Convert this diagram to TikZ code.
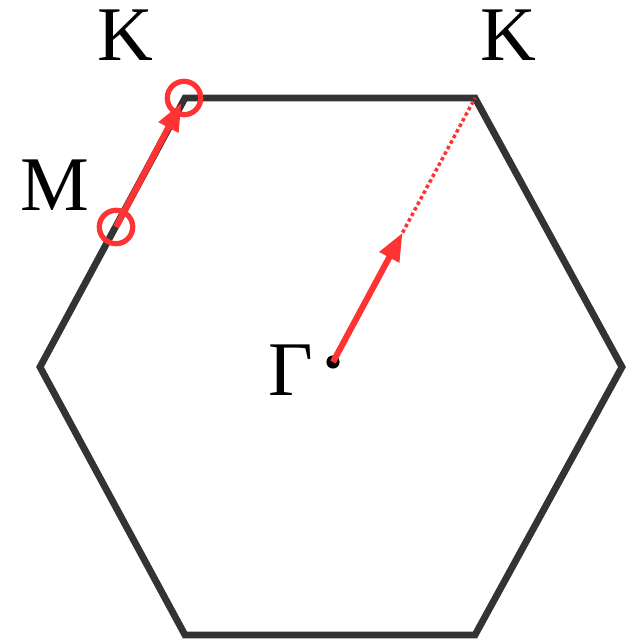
\documentclass[tikz,border=0pt]{standalone}
\usepackage{fontspec}
\setmainfont{Liberation Serif}
\usetikzlibrary{arrows.meta, calc}

\definecolor{hexgray}{HTML}{333333}
\definecolor{pathred}{HTML}{FF3333}

\begin{document}
\begin{tikzpicture}[
    x=0.02cm, y=-0.02cm,
    zone/.style={draw=hexgray, line width=3.9pt, line join=miter},
    vecarrow/.style={-{Triangle[length=16pt,width=12pt]}, draw=pathred, line width=3.5pt},
    extension/.style={draw=pathred, line width=2pt, dash pattern=on 2pt off 1.6pt},
    marker/.style={circle, draw=pathred, line width=3pt, minimum size=19pt, inner sep=0pt},
    gamma/.style={circle, fill=black, inner sep=0pt, minimum size=7.5pt},
    pointlabel/.style={font=\fontsize{44}{44}\selectfont, anchor=base}
]
\useasboundingbox (0,0) rectangle (634,640);

% Brillouin zone corners
\coordinate (kl) at (185,98);
\coordinate (kr) at (475,98);
\coordinate (er) at (622,367);
\coordinate (br) at (475,635);
\coordinate (bl) at (185,635);
\coordinate (el) at (40,367);

\draw[zone] (kl) -- (kr) -- (er) -- (br) -- (bl) -- (el) -- cycle;

% Gamma point and path towards K
\node[gamma] (G) at (333,362) {};
\coordinate (half) at ($(G)!0.49!(kr)$);
\draw[extension] (half) -- (kr);
\draw[vecarrow] (G.center) -- (half);

% M -> K along the zone edge
\node[marker] (M) at (116,227) {};
\node[marker] (K) at (184,98) {};
\draw[vecarrow, shorten >=3pt] (M.center) -- (K.center);

% Labels
\node[pointlabel] (lblKl) at (125,60) {K};
\node[pointlabel] (lblKr) at (508,60) {K};
\node[pointlabel] (lblM) at (55,210) {M};
\node[pointlabel] (lblG) at (291,395) {Γ};

\end{tikzpicture}
\end{document}
